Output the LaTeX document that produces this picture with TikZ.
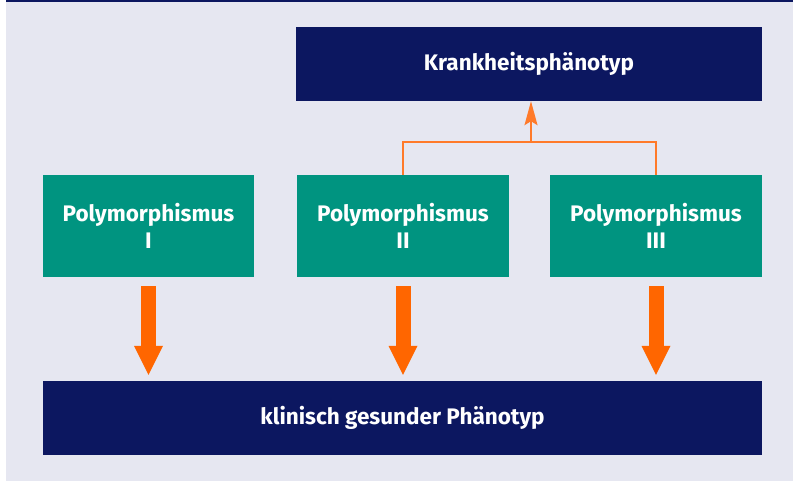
\documentclass[tikz,border=0pt]{standalone}
\usepackage{fontspec}
\setmainfont{Fira Sans}
\usetikzlibrary{arrows.meta}
\definecolor{bgfill}{HTML}{E6E7F1}
\definecolor{navy}{HTML}{0C1760}
\definecolor{teal}{HTML}{009480}
\definecolor{orng}{HTML}{FF6600}
\definecolor{lorng}{HTML}{FF7A2A}
\begin{document}
\begin{tikzpicture}[x=1pt,y=-1pt,
  box/.style={fill=#1,text=white,font=\bfseries\fontsize{22.5}{27}\selectfont,align=center,inner sep=0pt},
  fat/.style={orng,line width=15pt,-{Triangle[length=29pt,width=29pt,line width=0pt]}},
  thinlink/.style={lorng,line width=1.5pt}]
  \useasboundingbox (0,0) rectangle (793,481);
  \fill[bgfill] (6,2) rectangle (793,481);
  \fill[navy] (6,0) rectangle (793,1.6);
  \node[box=navy,minimum width=466pt,minimum height=74pt] (pheno) at (529,64) {Krankheitsphänotyp};
  \node[box=teal,minimum width=211pt,minimum height=102pt] (poly1) at (148.5,226) {Polymorphismus\\I};
  \node[box=teal,minimum width=212pt,minimum height=102pt] (poly2) at (403,226) {Polymorphismus\\II};
  \node[box=teal,minimum width=212pt,minimum height=102pt] (poly3) at (656,226) {Polymorphismus\\III};
  \node[box=navy,minimum width=719pt,minimum height=74pt] (healthy) at (402.5,418) {klinisch gesunder Phänotyp};
  \coordinate (join) at (531,142);
  \draw[thinlink] (poly2.north) |- (join) -| (poly3.north);
  \draw[thinlink,-{Stealth[length=24pt,width=13pt,inset=4pt]}] (join) -- (join |- pheno.south);
  \foreach \p in {poly1,poly2,poly3}
    \draw[fat] ([yshift=-9pt]\p.south) -- ([yshift=6pt]\p.south |- healthy.north);
\end{tikzpicture}
\end{document}
